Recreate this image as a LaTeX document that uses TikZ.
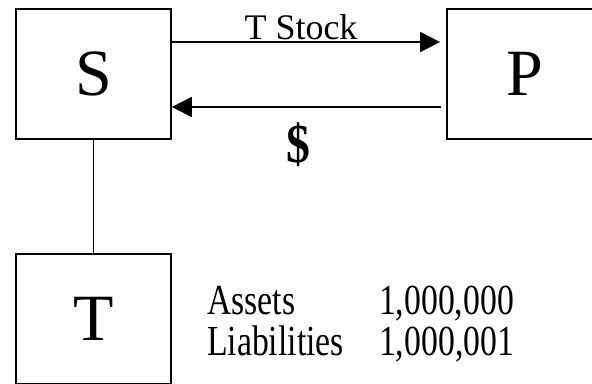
\documentclass[tikz,border=0pt]{standalone}
\usepackage{fontspec}
\setmainfont{Liberation Serif}
\usetikzlibrary{arrows.meta}
\tikzstyle{entitybox} = [rectangle, minimum width=3.875cm, minimum height=3.25cm,
    draw=black, line width=1.2pt, font=\fontsize{47}{50}\selectfont]
\tikzstyle{arrow} = [line width=1.2pt, -{Triangle[length=0.5cm, width=0.5cm]}]

\begin{document}
\begin{tikzpicture}[node distance=6.125cm]
    \useasboundingbox (0,0) rectangle (14.8,-9.575);

    % entity nodes
    \node (S) [entitybox] at (2.3375,-1.85) {S};
    \node (P) [entitybox, right of=S, xshift=4.65cm] {P};
    \node (T) [entitybox, below of=S] {T};

    % balance sheet of T
    \node (Balance) [anchor=west, inner sep=0pt, xshift=0.875cm, yshift=-0.175cm,
        font=\fontsize{24}{20.7}\selectfont] at (T.east)
        {\scalebox{1}[1.27]{\begin{tabular}{@{}l@{\hspace{25pt}}r@{}}
            Assets & 1,000,000\\
            Liabilities & 1,000,001
        \end{tabular}}};

    % arrows
    \draw [arrow] ([yshift=0.8cm]S.east) -- node (TStock) [anchor=south, inner sep=1pt,
        xshift=-0.125cm, font=\fontsize{25.6}{28}\selectfont] {T Stock}
        ([xshift=-0.15cm, yshift=0.8cm]P.west);
    \draw [arrow] ([xshift=-0.125cm, yshift=-0.825cm]P.west) -- node (Cash) [anchor=north,
        inner sep=0pt, xshift=-0.21cm, yshift=-0.375cm,
        font=\fontsize{34}{38}\selectfont\bfseries] {\scalebox{1}[1.15]{\$}}
        ([yshift=-0.825cm]S.east);
    \draw [line width=1.2pt] (S) -- (T);
\end{tikzpicture}
\end{document}
